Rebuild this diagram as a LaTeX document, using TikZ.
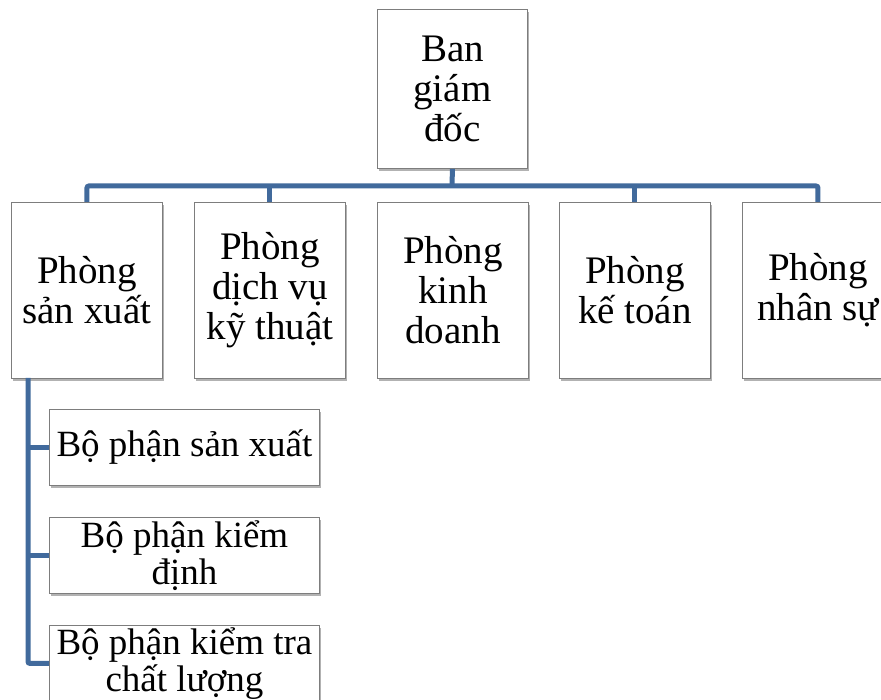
\documentclass[tikz,border=0pt]{standalone}
\usepackage{fontspec}
\setmainfont{Liberation Serif}
\usetikzlibrary{shadows}

\definecolor{linkblue}{RGB}{65,106,156}
\definecolor{boxedge}{RGB}{125,125,125}

\tikzset{
  unit box/.style={draw=boxedge, line width=0.9pt, fill=white, inner sep=0pt,
    anchor=north west, align=center,
    drop shadow={shadow xshift=2pt, shadow yshift=-3pt, fill=black, opacity=0.3}},
  dept/.style={unit box, minimum width=151pt, minimum height=176pt,
    font=\fontsize{39}{40}\selectfont},
  chief/.style={unit box, minimum width=150pt, minimum height=159pt,
    font=\fontsize{39}{40}\selectfont},
  subunit/.style={unit box, minimum width=270pt, minimum height=76pt,
    font=\fontsize{37}{37}\selectfont},
  link/.style={draw=linkblue, line width=5pt, rounded corners=2pt}
}

\begin{document}
\begin{tikzpicture}[x=1pt, y=-1pt]
  \useasboundingbox (0,0) rectangle (881,700);
  \fill[white] (0,0) rectangle (881,700);
  \clip (0,0) rectangle (881,700);

  % management
  \node[chief] (top) at (377,9) {Ban\\giám\\đốc};

  % departments
  \node[dept] (d1) at (11,202)  {Phòng\\sản xuất};
  \node[dept] (d2) at (194,202) {Phòng\\dịch vụ\\kỹ thuật};
  \node[dept] (d3) at (377,202) {Phòng\\kinh\\doanh};
  \node[dept] (d4) at (559,202) {Phòng\\kế toán};
  \node[dept] (d5) at (742,202) {Phòng\\nhân sự};

  % production sub-units
  \node[subunit] (s1) at (49,409) {Bộ phận sản xuất};
  \node[subunit] (s2) at (49,517) {Bộ phận kiểm\\định};
  \node[subunit] (s3) at (49,625) {Bộ phận kiểm tra\\chất lượng};

  % top-level bus
  \coordinate (bus) at (452,186);
  \draw[link] (top.south) -- (bus);
  \draw[link] (d1.north) |- (bus) -| (d5.north);
  \draw[link] (d2.north) -- (d2.north |- bus);
  \draw[link] (d4.north) -- (d4.north |- bus);

  % production spine
  \coordinate (spine) at (28,378);
  \draw[link] (spine) |- (s3.west);
  \draw[link] (spine |- s1.west) -- (s1.west);
  \draw[link] (spine |- s2.west) -- (s2.west);
\end{tikzpicture}
\end{document}
